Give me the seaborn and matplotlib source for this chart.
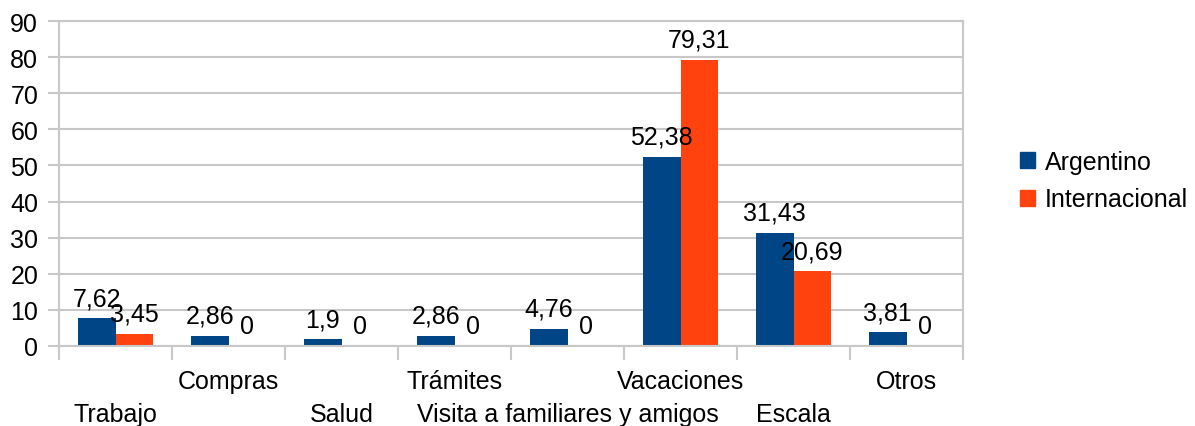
import pandas as pd
import matplotlib.pyplot as plt
import matplotlib.transforms as mtransforms
from matplotlib.ticker import FixedLocator
import seaborn as sns

# Data
categories = ['Trabajo', 'Compras', 'Salud', 'Trámites',
              'Visita a familiares y amigos', 'Vacaciones', 'Escala', 'Otros']
series_names = ['Argentino', 'Internacional']
argentino = [7.62, 2.86, 1.9, 2.86, 4.76, 52.38, 31.43, 3.81]
internacional = [3.45, 0, 0, 0, 0, 79.31, 20.69, 0]
colors = ['#004586', '#ff420e']
y_ticks = [0, 10, 20, 30, 40, 50, 60, 70, 80, 90]


def fmt(v):
    return f'{v:g}'.replace('.', ',')


def main():
    df = pd.DataFrame({
        'categoria': categories * 2,
        'valor': argentino + internacional,
        'serie': [series_names[0]] * len(categories) + [series_names[1]] * len(categories),
    })

    sns.set_style('white')
    plt.rcParams['font.family'] = ['Liberation Sans', 'DejaVu Sans']
    plt.rcParams['font.size'] = 18
    plt.rcParams['text.color'] = 'black'
    plt.rcParams['ytick.labelcolor'] = 'black'

    fig = plt.figure(figsize=(11.95, 4.27), dpi=100)
    ax = fig.add_axes([59 / 1195, 80 / 427, (963 - 59) / 1195, (347 - 22) / 427])

    sns.barplot(data=df, x='categoria', y='valor', hue='serie', order=categories,
                hue_order=series_names, palette=colors, saturation=1, width=0.67,
                linewidth=0, ax=ax, legend=False)

    grey = '#c8c8c8'
    ax.set_xlim(-0.5, len(categories) - 0.5)
    ax.set_ylim(0, 90)
    ax.set_yticks(y_ticks)
    ax.set_yticklabels([str(t) for t in y_ticks], fontsize=18, color='black')
    ax.set_xlabel('')
    ax.set_ylabel('')
    ax.set_axisbelow(True)
    ax.yaxis.grid(True, color=grey, linewidth=1.5)
    for sp in ax.spines.values():
        sp.set_color(grey)
        sp.set_linewidth(1.5)
    ax.tick_params(axis='y', length=8, width=1.5, color=grey, pad=7, direction='out', left=True)

    # x ticks at category boundaries, labels staggered
    ax.set_xticks([])
    ax.xaxis.set_minor_locator(FixedLocator([i - 0.5 for i in range(len(categories) + 1)]))
    ax.tick_params(axis='x', which='minor', length=10, width=1.5, color=grey,
                   direction='out', bottom=True)
    trans = mtransforms.blended_transform_factory(ax.transData, ax.transAxes)
    for i, cat in enumerate(categories):
        off = -35 if i % 2 == 1 else -68
        ax.annotate(cat, xy=(i, 0), xycoords=trans, xytext=(0, off),
                    textcoords='offset pixels', ha='center', va='center',
                    fontsize=18, color='black')

    # value labels
    for container, vals in zip(ax.containers, [argentino, internacional]):
        for bar, v in zip(container, vals):
            ax.annotate(fmt(v), xy=(bar.get_x() + bar.get_width() / 2, bar.get_height()),
                        xytext=(0, 13), textcoords='offset pixels',
                        ha='center', va='baseline', fontsize=18, color='black')

    handles = [plt.Rectangle((0, 0), 1, 1, color=c) for c in colors]
    fig.legend(handles, series_names, loc='center left',
               bbox_to_anchor=(1020 / 1195, (427 - 181.5) / 427),
               frameon=False, fontsize=18, handlelength=0.6, handleheight=0.6,
               handletextpad=0.4, labelspacing=0.55, borderpad=0, borderaxespad=0,
               labelcolor='black')

    plt.savefig('out.png', dpi=100)


if __name__ == "__main__":
    main()
